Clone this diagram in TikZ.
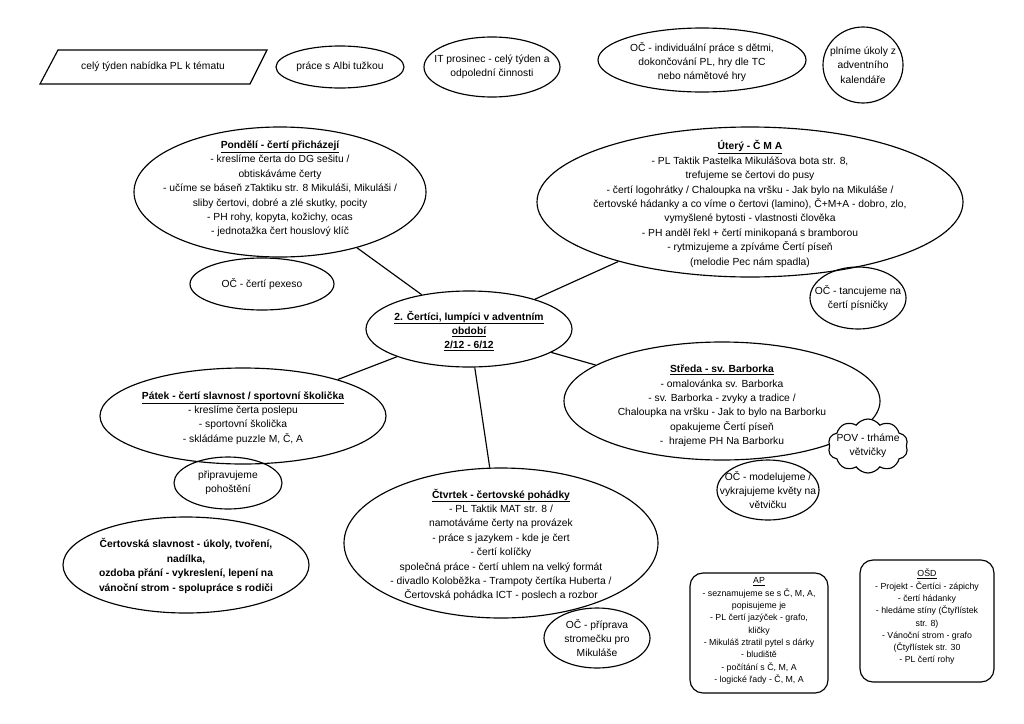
\documentclass[tikz,border=0pt]{standalone}
\usepackage{fontspec}
\setmainfont{Liberation Sans}
\usetikzlibrary{shapes.geometric,shapes.symbols}
\newcommand{\ttl}[1]{\textbf{\underline{#1}}}
\begin{document}
\begin{tikzpicture}[x=1pt,y=-1pt,
  every node/.style={font=\fontsize{10.3}{14.4}\selectfont},
  oval/.style={ellipse,draw,line width=1.15pt,inner sep=0pt},
  txt/.style={align=center,inner sep=0pt},
  small/.style={align=center,inner sep=0pt,font=\fontsize{8.8}{12.3}\selectfont},
  rbox/.style={draw,line width=1.15pt,rounded corners=13pt},
  link/.style={line width=1.15pt}
]
\useasboundingbox[fill=white] (0,0) rectangle (1024,723);

% top row
\coordinate (pa) at (58,50);
\coordinate (pb) at (267,50);
\coordinate (pc) at (250,84);
\coordinate (pd) at (40,84);
\draw[line width=1.15pt] (pa) -- (pb) -- (pc) -- (pd) -- cycle;
\node[txt] (parT) at (153,67) {celý týden nabídka PL k tématu};

\node[oval,minimum width=128,minimum height=42] (albi) at (340,67) {};
\node[txt] (albiT) at (albi.center) {práce s Albi tužkou};

\node[oval,minimum width=136,minimum height=60] (it) at (492,67) {};
\node[txt] (itT) at (492,67) {IT prosinec - celý týden a\\odpolední činnosti};

\node[oval,minimum width=208,minimum height=64] (oci) at (702,60) {};
\node[txt] (ociT) at (702,62) {OČ - individuální práce s dětmi,\\dokončování PL, hry dle TC\\nebo námětové hry};

\node[oval,minimum width=80,minimum height=76] (pln) at (863,65) {};
\node[txt] (plnT) at (863,65) {plníme úkoly z\\adventního\\kalendáře};

% Pondělí
\node[oval,minimum width=292,minimum height=130] (mon) at (280,192) {};
\node[txt] (monT) at (280,189) {\ttl{Pondělí - čertí přicházejí}\\- kreslíme čerta do DG sešitu /\\obtiskáváme čerty\\- učíme se báseň zTaktiku str. 8 Mikuláši, Mikuláši /\\sliby čertovi, dobré a zlé skutky, pocity\\- PH rohy, kopyta, kožichy, ocas\\- jednotažka čert houslový klíč};

\node[oval,minimum width=144,minimum height=52] (pex) at (262,284) {};
\node[txt] (pexT) at (262,284) {OČ - čertí pexeso};

% center
\node[oval,minimum width=206,minimum height=76] (ctr) at (469,329) {};
\node[txt] (ctrT) at (469,331) {\ttl{2. Čertíci, lumpíci v adventním}\\\ttl{období}\\\ttl{2/12 - 6/12}};

% Úterý
\node[oval,minimum width=426,minimum height=150] (tue) at (750,202) {};
\node[txt] (tueT) at (750,204) {\ttl{Úterý - Č M A}\\- PL Taktik Pastelka Mikulášova bota str. 8,\\trefujeme se čertovi do pusy\\- čertí logohrátky / Chaloupka na vršku - Jak bylo na Mikuláše /\\čertovské hádanky a co víme o čertovi (lamino), Č+M+A - dobro, zlo,\\vymyšlené bytosti - vlastnosti člověka\\- PH anděl řekl + čertí minikopaná s bramborou\\- rytmizujeme a zpíváme Čertí píseň\\(melodie Pec nám spadla)};

\node[oval,minimum width=96,minimum height=62] (tan) at (858,298) {};
\node[txt] (tanT) at (858,298) {OČ - tancujeme na\\čertí písničky};

% Pátek
\node[oval,minimum width=286,minimum height=96] (fri) at (243,416) {};
\node[txt] (friT) at (243,418) {\ttl{Pátek - čertí slavnost / sportovní školička}\\- kreslíme čerta poslepu\\- sportovní školička\\- skládáme puzzle M, Č, A};

\node[oval,minimum width=108,minimum height=52] (poh) at (228,483) {};
\node[txt] (pohT) at (228,483) {připravujeme\\pohoštění};

% Středa
\node[oval,minimum width=316,minimum height=118] (wed) at (722,401) {};
\node[txt] (wedT) at (722,406) {\ttl{Středa - sv. Barborka}\\- omalovánka sv. Barborka\\- sv. Barborka - zvyky a tradice /\\Chaloupka na vršku - Jak to bylo na Barborku\\opakujeme Čertí píseň\\-\ \ hrajeme PH Na Barborku};

\node[cloud,draw,fill=white,line width=1.15pt,cloud puffs=10,cloud puff arc=110,aspect=1.5,minimum width=80,minimum height=54,inner sep=0pt] (pov) at (868,446) {};
\node[txt] (povT) at (868,446) {POV - trháme\\větvičky};

\node[oval,minimum width=102,minimum height=60] (mod) at (768,490) {};
\node[txt] (modT) at (768,490) {OČ - modelujeme /\\vykrajujeme květy na\\větvičku};

% Čtvrtek
\node[oval,minimum width=314,minimum height=150] (thu) at (501,543) {};
\node[txt] (thuT) at (501,545) {\ttl{Čtvrtek - čertovské pohádky}\\- PL Taktik MAT str. 8 /\\namotáváme čerty na provázek\\- práce s jazykem - kde je čert\\- čertí kolíčky\\společná práce - čertí uhlem na velký formát\\- divadlo Koloběžka - Trampoty čertíka Huberta /\\Čertovská pohádka ICT - poslech a rozbor};

\node[oval,minimum width=106,minimum height=60] (str) at (597,638) {};
\node[txt] (strT) at (597,638) {OČ - příprava\\stromečku pro\\Mikuláše};

% bold ellipse
\node[oval,minimum width=246,minimum height=96] (sla) at (186,565) {};
\node[txt,font=\fontsize{10.3}{14.4}\selectfont\bfseries] (slaT) at (186,566) {Čertovská slavnost - úkoly, tvoření,\\nadílka,\\ozdoba přání - vykreslení, lepení na\\vánoční strom - spolupráce s rodiči};

% boxes
\node[rbox,minimum width=138,minimum height=120] (ap) at (759,633) {};
\node[small] (apT) at (759,631) {\underline{AP}\\- seznamujeme se s Č, M, A,\\popisujeme je\\- PL čertí jazýček - grafo,\\kličky\\- Mikuláš ztratil pytel s dárky\\- bludiště\\- počítání s Č, M, A\\- logické řady - Č, M, A};

\node[rbox,minimum width=134,minimum height=122] (osd) at (927,621) {};
\node[small] (osdT) at (927,617) {\underline{OŠD}\\- Projekt - Čertíci - zápichy\\- čertí hádanky\\- hledáme stíny (Čtyřlístek\\str. 8)\\- Vánoční strom - grafo\\(Čtyřlístek str. 30\\- PL čertí rohy};

% connectors
\draw[link] (ctr) -- (mon);
\draw[link] (ctr) -- (tue);
\draw[link] (ctr) -- (fri);
\draw[link] (ctr) -- (wed);
\draw[link] (ctr) -- (thu);
\end{tikzpicture}
\end{document}
